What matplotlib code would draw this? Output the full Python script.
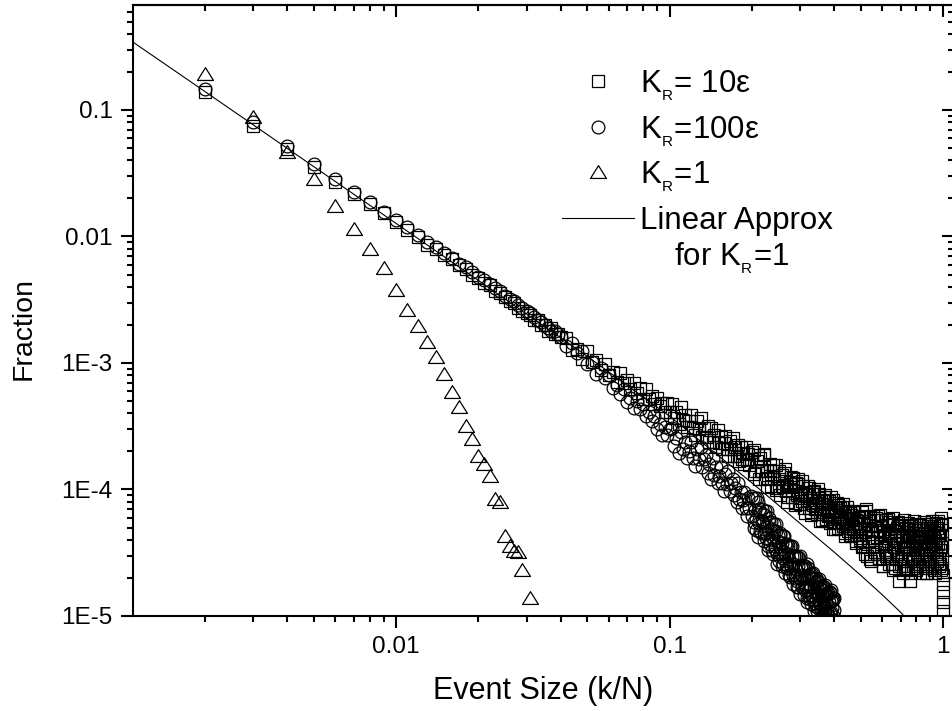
import matplotlib
matplotlib.use('Agg')
import matplotlib.pyplot as plt
from matplotlib.ticker import FixedLocator, FixedFormatter, LogLocator, NullFormatter
from matplotlib.path import Path
import numpy as np

plt.rcParams['font.family'] = ['Liberation Sans', 'DejaVu Sans']
plt.rcParams['mathtext.fontset'] = 'custom'
plt.rcParams['mathtext.rm'] = 'Liberation Sans'
plt.rcParams['mathtext.it'] = 'Liberation Sans'

N = 1000  # event size is k/N

# K_R = 10 eps  (squares)
sq_k = (list(range(2, 41)) + list(range(42, 101, 2)) + list(range(102, 201, 2))
        + list(range(203, 501, 3)) + list(range(505, 986, 5)) + list(range(990, 1001))
        + list(range(204, 499, 6)) + list(range(507, 988, 5)))
sq_y = [0.139, 0.0751, 0.0492, 0.0356, 0.0271, 0.0216, 0.0181, 0.0153, 0.0131,
        0.0113, 0.0099, 0.0086, 0.0080, 0.0071, 0.0066, 0.0059, 0.0055, 0.0050, 0.0047,
        0.0043, 0.0041, 0.0037, 0.0036, 0.0033, 0.0031, 0.0030, 0.0027, 0.0026, 0.0025,
        0.0024, 0.0022, 0.0022, 0.0020, 0.0020, 0.0018, 0.0019, 0.0017, 0.0017, 0.0016,
        # k = 42..100
        1.57e-3, 1.26e-3, 1.29e-3, 1.07e-3, 1.24e-3, 1.02e-3, 1.06e-3, 8.8e-4, 9.9e-4, 8.1e-4,
        8.5e-4, 7.1e-4, 8.4e-4, 7.0e-4, 7.4e-4, 6.2e-4, 7.0e-4, 5.8e-4, 6.3e-4, 5.2e-4,
        6.2e-4, 5.2e-4, 5.5e-4, 4.7e-4, 5.3e-4, 4.6e-4, 4.8e-4, 4.1e-4, 4.8e-4, 4.1e-4,
        # k = 102..200
        4.73e-4, 3.70e-4, 4.13e-4, 3.32e-4, 4.50e-4, 3.53e-4, 3.88e-4, 3.12e-4, 3.47e-4, 3.90e-4,
        3.05e-4, 2.70e-4, 3.50e-4, 3.02e-4, 3.66e-4, 2.59e-4, 3.07e-4, 2.61e-4, 3.18e-4, 2.37e-4,
        3.04e-4, 2.39e-4, 2.69e-4, 2.18e-4, 2.96e-4, 2.35e-4, 2.60e-4, 2.10e-4, 2.35e-4, 2.66e-4,
        2.09e-4, 1.85e-4, 2.42e-4, 2.10e-4, 2.56e-4, 1.83e-4, 2.16e-4, 1.85e-4, 2.26e-4, 1.69e-4,
        2.17e-4, 1.73e-4, 1.95e-4, 1.58e-4, 2.17e-4, 1.72e-4, 1.92e-4, 1.55e-4, 1.74e-4, 1.97e-4,
        # k = 203..500
        2.04e-4, 1.41e-4, 1.69e-4, 1.22e-4, 1.76e-4, 1.41e-4, 1.88e-4, 1.20e-4, 1.41e-4, 1.24e-4,
        1.59e-4, 1.06e-4, 1.40e-4, 1.22e-4, 1.56e-4, 1.02e-4, 1.22e-4, 9.0e-5, 1.30e-4, 1.05e-4,
        1.34e-4, 9.7e-5, 1.06e-4, 8.7e-5, 1.15e-4, 1.26e-4, 8.7e-5, 1.05e-4, 7.6e-5, 1.12e-4,
        9.0e-5, 1.20e-4, 7.7e-5, 9.15e-5, 8.1e-5, 1.06e-4, 7.1e-5, 9.5e-5, 8.3e-5, 1.07e-4,
        7.1e-5, 8.6e-5, 6.3e-5, 9.2e-5, 7.5e-5, 9.7e-5, 7.0e-5, 7.8e-5, 6.4e-5, 8.5e-5,
        9.2e-5, 6.4e-5, 7.7e-5, 5.7e-5, 8.2e-5, 6.6e-5, 9.0e-5, 5.8e-5, 6.9e-5, 6.2e-5,
        8.1e-5, 5.4e-5, 7.3e-5, 6.4e-5, 8.3e-5, 5.5e-5, 6.65e-5, 4.9e-5, 7.2e-5, 5.8e-5,
        7.5e-5, 5.4e-5, 6.0e-5, 5.0e-5, 6.6e-5, 7.3e-5, 5.1e-5, 6.2e-5, 4.5e-5, 6.6e-5,
        5.4e-5, 7.3e-5, 4.7e-5, 5.6e-5, 5.0e-5, 6.5e-5, 4.3e-5, 5.8e-5, 5.1e-5, 6.6e-5,
        4.4e-5, 5.3e-5, 3.9e-5, 5.7e-5, 4.6e-5, 6.0e-5, 4.4e-5, 4.9e-5, 4.1e-5, 5.4e-5,
        # k = 505..985
        6.6e-5, 3.6e-5, 5.3e-5, 3.1e-5, 7.0e-5, 4.1e-5, 5.6e-5, 2.8e-5, 4.7e-5, 3.6e-5,
        6.2e-5, 3.1e-5, 5.1e-5, 6.0e-5, 3.2e-5, 4.8e-5, 2.9e-5, 6.3e-5, 3.7e-5, 5.1e-5,
        2.5e-5, 4.3e-5, 3.3e-5, 5.7e-5, 2.9e-5, 4.7e-5, 5.5e-5, 3.0e-5, 4.4e-5, 2.6e-5,
        5.9e-5, 3.5e-5, 4.7e-5, 2.4e-5, 4.0e-5, 3.1e-5, 5.4e-5, 1.9e-5, 4.4e-5, 5.2e-5,
        2.8e-5, 4.2e-5, 2.5e-5, 5.7e-5, 3.4e-5, 4.6e-5, 2.3e-5, 3.9e-5, 3.0e-5, 5.2e-5,
        1.9e-5, 4.4e-5, 5.1e-5, 2.8e-5, 4.1e-5, 2.5e-5, 5.6e-5, 3.3e-5, 4.5e-5, 2.3e-5,
        3.8e-5, 3.0e-5, 5.2e-5, 2.6e-5, 4.3e-5, 5.0e-5, 2.8e-5, 4.1e-5, 2.5e-5, 5.5e-5,
        3.3e-5, 4.5e-5, 2.2e-5, 3.8e-5, 3.0e-5, 5.1e-5, 2.6e-5, 4.3e-5, 5.0e-5, 2.8e-5,
        4.1e-5, 2.5e-5, 5.6e-5, 3.3e-5, 4.6e-5, 2.3e-5, 3.9e-5, 3.1e-5, 5.4e-5, 2.7e-5,
        4.5e-5, 5.3e-5, 2.9e-5, 4.4e-5, 2.6e-5, 5.9e-5, 3.5e-5,
        # k = 990..1000
        5.2e-5, 4.4e-5, 3.8e-5, 3.3e-5, 2.8e-5, 2.4e-5, 2.1e-5, 1.8e-5, 1.55e-5, 1.3e-5, 1.1e-5,
        # k = 204..498 (every 6th)
        1.33e-4, 1.87e-4, 1.40e-4, 1.90e-4, 1.04e-4, 1.42e-4, 1.57e-4, 9.9e-5, 1.39e-4, 1.06e-4,
        1.44e-4, 7.9e-5, 1.10e-4, 1.23e-4, 7.8e-5, 1.11e-4, 8.5e-5, 1.17e-4, 6.5e-5, 9.1e-5,
        1.02e-4, 6.6e-5, 9.6e-5, 7.4e-5, 1.01e-4, 5.6e-5, 7.7e-5, 8.7e-5, 5.6e-5, 8.1e-5,
        6.3e-5, 8.7e-5, 4.9e-5, 6.9e-5, 7.8e-5, 5.0e-5, 7.1e-5, 5.5e-5, 7.7e-5, 4.3e-5,
        6.0e-5, 6.8e-5, 4.4e-5, 6.3e-5, 4.9e-5, 6.8e-5, 3.8e-5, 5.4e-5, 6.1e-5, 4.0e-5,
        # k = 507..987
        3.5e-5, 6.2e-5, 4.6e-5, 6.8e-5, 3.0e-5, 5.2e-5, 3.9e-5, 6.1e-5, 2.7e-5, 4.8e-5,
        4.1e-5, 3.2e-5, 5.7e-5, 4.2e-5, 6.2e-5, 2.8e-5, 4.8e-5, 3.6e-5, 5.7e-5, 2.5e-5,
        4.4e-5, 3.8e-5, 3.0e-5, 5.2e-5, 3.9e-5, 5.8e-5, 2.6e-5, 4.5e-5, 3.3e-5, 5.3e-5,
        2.3e-5, 4.1e-5, 3.5e-5, 2.8e-5, 5.0e-5, 3.7e-5, 5.5e-5, 2.5e-5, 4.3e-5, 3.2e-5,
        5.1e-5, 2.2e-5, 4.0e-5, 3.4e-5, 2.8e-5, 4.9e-5, 3.6e-5, 5.4e-5, 2.4e-5, 4.3e-5,
        3.1e-5, 5.0e-5, 2.2e-5, 4.0e-5, 3.4e-5, 2.7e-5, 4.8e-5, 3.6e-5, 5.3e-5, 2.4e-5,
        4.2e-5, 3.1e-5, 5.0e-5, 2.2e-5, 3.9e-5, 3.4e-5, 2.7e-5, 4.8e-5, 3.5e-5, 5.3e-5,
        2.4e-5, 4.2e-5, 3.1e-5, 5.0e-5, 2.2e-5, 3.9e-5, 3.4e-5, 2.7e-5, 4.8e-5, 3.6e-5,
        5.3e-5, 2.4e-5, 4.2e-5, 3.2e-5, 5.1e-5, 2.2e-5, 4.0e-5, 3.5e-5, 2.8e-5, 5.0e-5,
        3.7e-5, 5.6e-5, 2.5e-5, 4.4e-5, 3.3e-5, 5.3e-5, 2.3e-5]

# K_R = 100 eps  (circles)
ci_k = (list(range(2, 41)) + list(range(42, 101, 2)) + list(range(102, 201, 2))
        + list(range(202, 401, 2)) + list(range(203, 400, 2)))
ci_y = [0.146, 0.0800, 0.0522, 0.0374, 0.0285, 0.0224, 0.0188, 0.0157, 0.0135,
        0.0118, 0.0103, 0.0091, 0.0082, 0.0074, 0.0068, 0.0061, 0.0057, 0.0052, 0.0048,
        0.0045, 0.0042, 0.0039, 0.0037, 0.0034, 0.0032, 0.0031, 0.0029, 0.0027, 0.0026,
        0.0025, 0.0023, 0.0022, 0.0021, 0.0020, 0.0019, 0.0018, 0.0018, 0.0017, 0.0016,
        # k = 42..100
        1.36e-3, 1.43e-3, 1.20e-3, 1.25e-3, 9.8e-4, 1.02e-3, 8.2e-4, 9.1e-4, 7.6e-4, 8.0e-4,
        6.3e-4, 6.7e-4, 5.7e-4, 6.2e-4, 4.9e-4, 5.3e-4, 4.4e-4, 5.0e-4, 4.3e-4, 4.7e-4,
        3.8e-4, 4.1e-4, 3.5e-4, 3.8e-4, 3.0e-4, 3.3e-4, 2.7e-4, 3.1e-4, 2.7e-4, 3.0e-4,
        # k = 102..200
        3.04e-4, 2.21e-4, 2.56e-4, 1.96e-4, 2.83e-4, 2.09e-4, 2.39e-4, 1.79e-4, 2.03e-4, 2.38e-4,
        1.76e-4, 1.52e-4, 2.09e-4, 1.73e-4, 2.17e-4, 1.50e-4, 1.75e-4, 1.87e-4, 1.36e-4, 1.58e-4,
        1.21e-4, 1.76e-4, 1.30e-4, 1.50e-4, 1.13e-4, 1.29e-4, 1.51e-4, 1.12e-4, 9.7e-5, 1.33e-4,
        1.10e-4, 1.39e-4, 9.7e-5, 1.13e-4, 1.22e-4, 9.0e-5, 1.03e-4, 7.9e-5, 1.13e-4, 8.4e-5,
        9.6e-5, 7.2e-5, 8.2e-5, 9.6e-5, 7.1e-5, 6.2e-5, 8.6e-5, 7.1e-5, 8.9e-5, 6.2e-5,
        # k = 202..400
        8.5e-5, 5.5e-5, 6.9e-5, 4.8e-5, 8.0e-5, 5.4e-5, 6.6e-5, 4.5e-5, 5.6e-5, 6.4e-5,
        4.5e-5, 6.3e-5, 4.1e-5, 5.1e-5, 3.6e-5, 5.9e-5, 4.0e-5, 4.9e-5, 3.3e-5, 4.1e-5,
        4.7e-5, 3.4e-5, 4.7e-5, 3.1e-5, 3.9e-5, 2.7e-5, 4.5e-5, 3.1e-5, 3.8e-5, 2.6e-5,
        3.2e-5, 3.7e-5, 2.6e-5, 3.7e-5, 2.4e-5, 3.1e-5, 2.1e-5, 3.6e-5, 2.5e-5, 3.0e-5,
        2.1e-5, 2.6e-5, 3.0e-5, 2.1e-5, 3.0e-5, 1.9e-5, 2.5e-5, 1.7e-5, 2.9e-5, 2.0e-5,
        2.4e-5, 1.7e-5, 2.1e-5, 2.4e-5, 1.7e-5, 2.4e-5, 1.6e-5, 2.0e-5, 1.4e-5, 2.4e-5,
        1.6e-5, 2.0e-5, 1.36e-5, 1.7e-5, 2.0e-5, 1.43e-5, 2.0e-5, 1.33e-5, 1.68e-5, 1.19e-5,
        2.0e-5, 1.37e-5, 1.69e-5, 1.16e-5, 1.46e-5, 1.69e-5, 1.22e-5, 1.73e-5, 1.14e-5, 1.46e-5,
        1.02e-5, 1.74e-5, 1.20e-5, 1.48e-5, 1.02e-5, 1.29e-5, 1.49e-5, 1.08e-5, 1.51e-5, 1.01e-5,
        1.29e-5, 0.91e-5, 1.54e-5, 1.07e-5, 1.32e-5, 0.91e-5, 1.15e-5, 1.34e-5, 0.98e-5, 1.38e-5,
        # k = 203..399
        5.0e-5, 8.6e-5, 5.8e-5, 8.6e-5, 4.2e-5, 7.0e-5, 4.7e-5, 7.0e-5, 5.45e-5, 3.9e-5,
        6.7e-5, 4.5e-5, 6.7e-5, 3.3e-5, 5.5e-5, 3.7e-5, 5.5e-5, 4.25e-5, 3.1e-5, 5.3e-5,
        3.6e-5, 5.3e-5, 2.6e-5, 4.4e-5, 3.0e-5, 4.4e-5, 3.4e-5, 2.5e-5, 4.3e-5, 2.9e-5,
        4.3e-5, 2.2e-5, 3.6e-5, 2.4e-5, 3.6e-5, 2.8e-5, 2.05e-5, 3.5e-5, 2.4e-5, 3.6e-5,
        1.8e-5, 3.0e-5, 2.0e-5, 3.0e-5, 2.37e-5, 1.7e-5, 2.95e-5, 2.0e-5, 3.0e-5, 1.5e-5,
        2.5e-5, 1.7e-5, 2.55e-5, 2.0e-5, 1.46e-5, 2.5e-5, 1.7e-5, 2.6e-5, 1.28e-5, 2.1e-5,
        1.44e-5, 2.16e-5, 1.70e-5, 1.24e-5, 2.15e-5, 1.47e-5, 2.2e-5, 1.1e-5, 1.84e-5, 1.26e-5,
        1.89e-5, 1.49e-5, 1.09e-5, 1.89e-5, 1.29e-5, 1.95e-5, 0.97e-5, 1.63e-5, 1.12e-5, 1.69e-5,
        1.33e-5, 0.98e-5, 1.69e-5, 1.16e-5, 1.75e-5, 0.88e-5, 1.46e-5, 1.01e-5, 1.51e-5, 1.20e-5,
        0.88e-5, 1.53e-5, 1.05e-5, 1.60e-5, 0.80e-5, 1.35e-5, 0.93e-5, 1.40e-5, 1.11e-5]

# K_R = 1  (triangles)
tr_k = list(range(2, 30)) + [31]
tr_y = [0.19, 0.086, 0.046, 0.028, 0.0172, 0.0113, 0.0078, 0.0055, 0.0037,
        0.0026, 0.00194, 0.00143, 0.00109, 8.1e-4, 5.8e-4, 4.4e-4, 3.1e-4, 2.46e-4,
        1.82e-4, 1.56e-4, 1.26e-4, 8.3e-5, 7.8e-5, 4.2e-5, 3.5e-5, 3.2e-5, 3.17e-5,
        2.27e-5, 1.36e-5]

# linear approximation for K_R = 1
line_x = [0.00109, 0.002, 0.005, 0.01, 0.02, 0.05, 0.1, 0.15, 0.2, 0.3, 0.4, 0.5, 0.6, 0.7, 0.72]
line_y = [0.345, 0.140, 0.0357, 0.0127, 0.0045, 0.00113, 3.8e-4, 1.87e-4, 1.13e-4,
          5.4e-5, 3.2e-5, 2.1e-5, 1.47e-5, 1.07e-5, 1.0e-5]

x_ticks = [0.01, 0.1, 1]
x_labels = ['0.01', '0.1', '1']
y_ticks = [1e-5, 1e-4, 1e-3, 0.01, 0.1]
y_labels = ['1E-5', '1E-4', '1E-3', '0.01', '0.1']

sub_r = r'K$_{_\mathregular{R}}$'
labels = [sub_r + '= 10ε', sub_r + '=100ε', sub_r + '=1', 'Linear Approx']

W, H = 953, 711
fig = plt.figure(figsize=(W / 100, H / 100), dpi=100)
ax = fig.add_axes([133 / W, 1 - 616 / H, 820.5 / W, 611 / H])
ax.set_xscale('log')
ax.set_yscale('log')

tri = Path([(-1, -0.62), (1, -0.62), (0, 0.98), (0, 0)],
           [Path.MOVETO, Path.LINETO, Path.LINETO, Path.CLOSEPOLY])

sq_x = np.array(sq_k) / N
ci_x = np.array(ci_k) / N
tr_x = np.array(tr_k) / N

mk = dict(ls='none', mfc='none', mec='black', mew=0.9)
h1, = ax.plot(sq_x, sq_y, marker='s', ms=8.7, **mk)
h2, = ax.plot(ci_x, ci_y, marker='o', ms=9.2, **mk)
h3, = ax.plot(tr_x, tr_y, marker=tri, ms=11.5, **mk)
h4, = ax.plot(line_x, line_y, color='black', lw=0.8)

ax.set_xlim(0.001092, 1.0925)
ax.set_ylim(1e-5, 0.676)

for axis, ticks, labs in [(ax.xaxis, x_ticks, x_labels), (ax.yaxis, y_ticks, y_labels)]:
    axis.set_major_locator(FixedLocator(ticks))
    axis.set_major_formatter(FixedFormatter(labs))
    axis.set_minor_locator(LogLocator(base=10, subs=np.arange(2, 10), numticks=20))
    axis.set_minor_formatter(NullFormatter())

ax.tick_params(which='major', direction='out', length=8.6, width=1.5, labelsize=17.5, pad=6)
ax.tick_params(which='minor', direction='out', length=4.3, width=1.5)
for s in ['left', 'bottom', 'top']:
    ax.spines[s].set_linewidth(1.5)
ax.spines['right'].set_visible(False)

# mirrored axes with inward ticks
secx = ax.secondary_xaxis('top')
secx.xaxis.set_major_locator(FixedLocator(x_ticks))
secx.xaxis.set_minor_locator(LogLocator(base=10, subs=np.arange(2, 10), numticks=20))
secx.xaxis.set_major_formatter(NullFormatter())
secx.xaxis.set_minor_formatter(NullFormatter())
secx.tick_params(which='major', direction='in', length=8.6, width=1.5)
secx.tick_params(which='minor', direction='in', length=4.3, width=1.5)
secx.spines['top'].set_linewidth(1.5)

secy = ax.secondary_yaxis('right')
secy.yaxis.set_major_locator(FixedLocator(y_ticks))
secy.yaxis.set_minor_locator(LogLocator(base=10, subs=np.arange(2, 10), numticks=20))
secy.yaxis.set_major_formatter(NullFormatter())
secy.yaxis.set_minor_formatter(NullFormatter())
secy.tick_params(which='major', direction='in', length=8.6, width=1.5)
secy.tick_params(which='minor', direction='in', length=4.3, width=1.5)
secy.spines['right'].set_visible(False)

ax.set_xlabel('Event Size (k/N)', fontsize=22)
ax.xaxis.set_label_coords(0.5, -0.098)
ax.set_ylabel('Fraction', fontsize=20.5)
ax.yaxis.set_label_coords(-0.117, 0.47)

leg = ax.legend([h1, h2, h3, h4], labels, loc='upper left', bbox_to_anchor=(0.523, 0.897),
                frameon=False, fontsize=22.5, handlelength=2.3, handletextpad=0.2,
                labelspacing=0.36, borderpad=0, borderaxespad=0)
ax.text(0.7294, 0.5745, 'for ' + sub_r + '=1', transform=ax.transAxes,
        fontsize=22.5, ha='center', va='baseline')

fig.savefig('out.png', dpi=100)
